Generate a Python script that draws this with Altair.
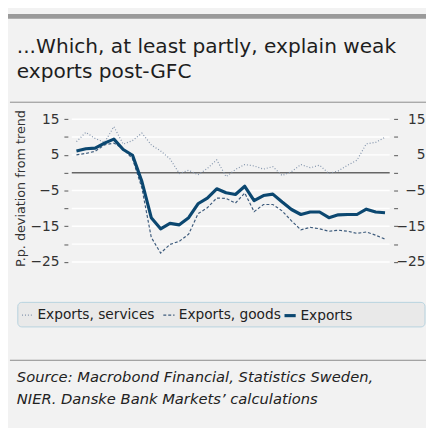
import altair as alt
import pandas as pd

# Quarterly observations 2007Q1 .. 2015Q2 (plotted at mid-quarter)
quarter_labels = [f"{y}Q{q}" for y in range(2007, 2016) for q in range(1, 5)][:34]

exports = [6.1, 6.7, 6.9, 8.3, 9.4, 6.5, 4.9, -2.5, -12.6, -15.7, -14.2, -14.6,
           -12.6, -8.7, -7.1, -4.5, -5.6, -6.1, -3.8, -7.8, -6.4, -6.0, -8.2,
           -10.3, -11.7, -11.0, -11.0, -12.6, -11.8, -11.7, -11.7, -10.2, -11.0, -11.2]
goods = [5.0, 5.4, 6.0, 7.8, 8.3, 6.7, 3.9, -4.3, -18.1, -22.5, -20.1, -19.2,
         -17.2, -11.5, -9.8, -7.1, -7.2, -8.5, -5.7, -10.9, -8.9, -8.9, -10.7,
         -13.5, -16.0, -15.3, -15.7, -16.4, -16.1, -16.4, -17.0, -16.6, -17.5, -18.6]
services = [8.7, 11.3, 9.6, 8.5, 12.9, 8.0, 9.0, 11.1, 7.8, 6.1, 3.9, -0.2,
            0.7, -0.6, 1.2, 3.6, -1.1, 0.9, 2.3, 1.9, 1.0, 1.7, -0.8,
            0.3, 2.3, 1.4, 2.1, -0.2, 0.5, 2.1, 3.5, 8.1, 8.5, 9.9]

series_names = ["Exports, services", "Exports, goods", "Exports"]
series_colors = ["#8193ab", "#3d5b7c", "#0b4770"]
y_ticks = [-25, -20, -15, -10, -5, 0, 5, 10, 15]
grid_values = [-25, -20, -15, -10, -5, 5, 10, 15]
x_ticks = [2008, 2010, 2012, 2014]

title_lines = ["...Which, at least partly, explain weak", "exports post-GFC"]
source_lines = ["Source: Macrobond Financial, Statistics Sweden,",
                "NIER. Danske Bank Markets\u2019 calculations"]
y_title = "P.p. deviation from trend"


def qpos(label):
    y, q = label.split("Q")
    return int(y) + (int(q) - 0.5) / 4


rows = []
for name, vals in zip(series_names, [services, goods, exports]):
    for lab, v in zip(quarter_labels, vals):
        rows.append({"t": qpos(lab), "v": v, "s": name})
df = pd.DataFrame(rows)

FONT = "DejaVu Sans"
xscale = alt.Scale(domain=[2007.0, 2015.5], nice=False, zero=False)
yscale = alt.Scale(domain=[-27.25, 18.65], nice=False, zero=False)

grid = alt.Chart(pd.DataFrame({"v": grid_values})).mark_rule(
    color="white", strokeWidth=1.5
).encode(y=alt.Y("v:Q", scale=yscale, axis=None))


def legend(x, sw):
    return alt.Legend(title=None, orient="none", legendX=x, legendY=206,
                      direction="horizontal", labelFontSize=14,
                      labelFont=FONT, labelColor="#222",
                      symbolType="stroke", symbolSize=130, symbolStrokeWidth=sw,
                      labelOffset=3, columnPadding=5, padding=0)


x_enc = alt.X("t:Q", scale=xscale, axis=alt.Axis(
    values=x_ticks, format="d", title=None, grid=False, domain=False,
    tickSize=5, offset=1, tickColor="#555", labelPadding=3,
    labelFontSize=14, labelFont=FONT, labelColor="#333"))

thin_names = series_names[:2]
thin = alt.Chart(df).transform_filter(
    alt.FieldOneOfPredicate(field="s", oneOf=thin_names)
).mark_line(strokeWidth=1.2).encode(
    x=x_enc,
    y=alt.Y("v:Q", scale=yscale, axis=alt.Axis(
        values=y_ticks, labelExpr="datum.value % 10 == 0 ? '' : datum.label",
        title=y_title, titleFont=FONT, titleFontSize=13, titleFontWeight="normal",
        titleColor="#333", titlePadding=3, grid=False, domain=False,
        tickSize=4, offset=4, tickColor="#555", labelPadding=5,
        labelFontSize=14, labelFont=FONT, labelColor="#333")),
    color=alt.Color("s:N", sort=thin_names,
                    scale=alt.Scale(domain=thin_names, range=series_colors[:2]),
                    legend=legend(-52, 1.2)),
    strokeDash=alt.StrokeDash("s:N", sort=thin_names,
                              scale=alt.Scale(domain=thin_names, range=[[1, 2], [3, 2]]),
                              legend=legend(-52, 1.2)),
)

thick = alt.Chart(df).transform_filter(
    alt.FieldEqualPredicate(field="s", equal="Exports")
).mark_line(strokeWidth=3.2, strokeJoin="round").encode(
    x=alt.X("t:Q", scale=xscale, axis=None),
    y=alt.Y("v:Q", scale=yscale, axis=None),
    color=alt.Color("s:N", scale=alt.Scale(domain=["Exports"], range=series_colors[2:]),
                    legend=legend(215, 3.2)),
)

zero = alt.Chart(pd.DataFrame({"v": [0]})).mark_rule(
    color="#666", strokeWidth=1.5
).encode(y=alt.Y("v:Q", scale=yscale, axis=alt.Axis(
    orient="right", values=y_ticks,
    labelExpr="datum.value % 10 == 0 ? '' : datum.label",
    title=None, grid=False, domain=False, tickSize=4, offset=4, tickColor="#555",
    labelAlign="right", labelPadding=28, labelFontSize=14, labelFont=FONT,
    labelColor="#333")))

one = pd.DataFrame({"k": [0]})


def rule_h(y, x1, x2, color, width):
    return alt.Chart(one).mark_rule(color=color, strokeWidth=width).encode(
        x=alt.value(x1), x2=alt.value(x2), y=alt.value(y))


top_bar = rule_h(-91.5, -73, 361, "#9a9a9a", 5)
top_line = rule_h(-4, -63, 361, "#8a8a8a", 1)
src_line = rule_h(259, -63, 361, "#8a8a8a", 1)

legend_box = alt.Chart(one).mark_rect(
    fill="#e9e9e9", stroke="#b7d2de", strokeWidth=1, cornerRadius=4
).encode(x=alt.value(-55), x2=alt.value(360), y=alt.value(200), y2=alt.value(225))

title_txt = alt.Chart(one).mark_text(
    align="left", baseline="alphabetic", font=FONT, fontSize=20.5,
    color="#1e1e1e", lineHeight=25
).encode(x=alt.value(-56), y=alt.value(-54), text=alt.value(title_lines))

source_txt = alt.Chart(one).mark_text(
    align="left", baseline="alphabetic", font=FONT, fontSize=15,
    fontStyle="italic", color="#222", lineHeight=23
).encode(x=alt.value(-56), y=alt.value(281), text=alt.value(source_lines))

chart = alt.layer(
    top_bar, top_line, src_line, legend_box, grid, zero, thin, thick,
    title_txt, source_txt
).resolve_axis(y="independent").resolve_scale(
    color="independent", strokeDash="independent"
).properties(
    width=324, height=167,
    autosize=alt.AutoSizeParams(type="none"),
    padding={"left": 65, "top": 96, "right": 37, "bottom": 157},
).configure(background="#f2f2f2").configure_view(strokeWidth=0)

chart.save("out.html", embed_options={"renderer": "svg", "actions": False})
